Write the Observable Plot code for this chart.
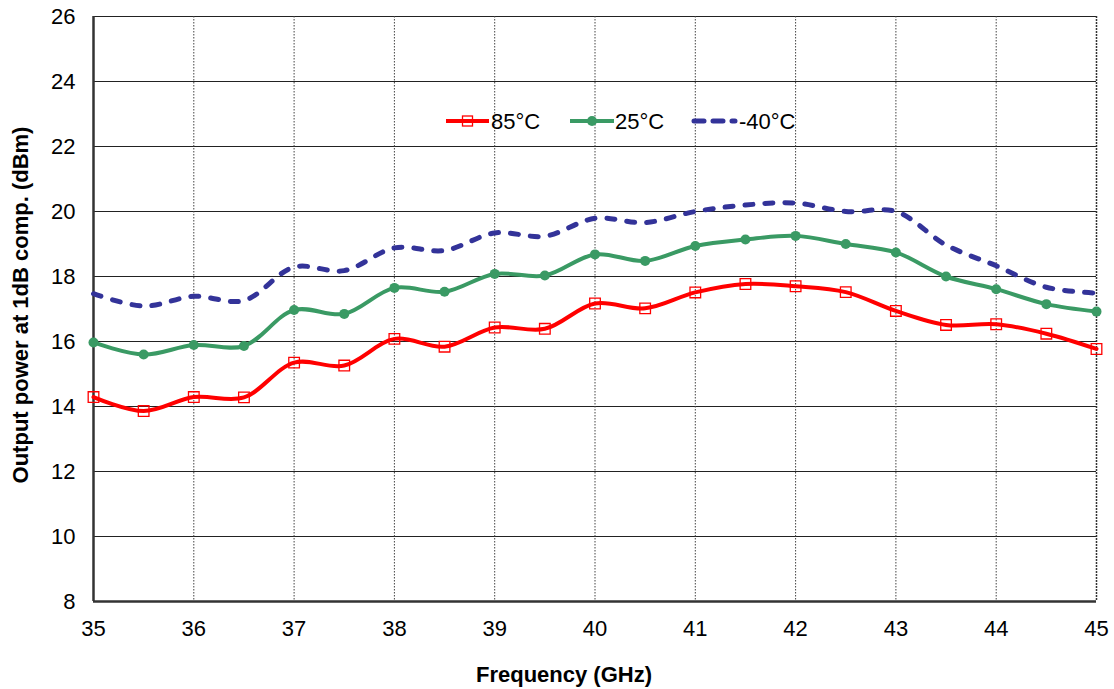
<!DOCTYPE html>
<html>
<head>
<meta charset="utf-8">
<script src="https://cdn.jsdelivr.net/npm/d3@7"></script>
<script src="https://cdn.jsdelivr.net/npm/@observablehq/plot@0.6"></script>
<style>
  html, body { margin: 0; padding: 0; background: #fff; }
  #chart { width: 1114px; height: 689px; }
</style>
</head>
<body>
<div id="chart"></div>
<script>
// ---- Data ----
const freq = [35, 35.5, 36, 36.5, 37, 37.5, 38, 38.5, 39, 39.5, 40, 40.5, 41, 41.5, 42, 42.5, 43, 43.5, 44, 44.5, 45];
const p85 = [14.29, 13.86, 14.29, 14.28, 15.35, 15.26, 16.08, 15.84, 16.43, 16.39, 17.17, 17.02, 17.51, 17.77, 17.70, 17.52, 16.94, 16.51, 16.53, 16.24, 15.77];
const p25 = [15.97, 15.60, 15.89, 15.86, 16.97, 16.85, 17.65, 17.53, 18.08, 18.03, 18.68, 18.48, 18.94, 19.14, 19.25, 19.00, 18.74, 18.00, 17.61, 17.15, 16.92];
const pm40 = [17.47, 17.09, 17.39, 17.26, 18.29, 18.18, 18.88, 18.80, 19.34, 19.24, 19.79, 19.66, 20.00, 20.20, 20.26, 20.00, 20.00, 18.97, 18.33, 17.67, 17.49];
const seriesNames = ["85°C", "25°C", "-40°C"];
const xTicks = [35, 36, 37, 38, 39, 40, 41, 42, 43, 44, 45];
const yTicks = [8, 10, 12, 14, 16, 18, 20, 22, 24, 26];
const xTitle = "Frequency (GHz)";
const yTitle = "Output power at 1dB comp. (dBm)";

const colors = {"85°C": "#ff0000", "25°C": "#3a9a64", "-40°C": "#333399"};

const rows = (vals, s) => freq.map((f, i) => ({f, v: vals[i], s}));
const r85 = rows(p85, seriesNames[0]);
const r25 = rows(p25, seriesNames[1]);
const rm40 = rows(pm40, seriesNames[2]);

const FS = 22;

const chart = Plot.plot({
  width: 1114,
  height: 689,
  marginLeft: 93,
  marginRight: 18,
  marginTop: 16,
  marginBottom: 88,
  x: {domain: [35, 45]},
  y: {domain: [8, 26]},
  style: {fontFamily: "'Liberation Sans', Arial, sans-serif", fontSize: FS + "px", color: "#000", background: "#fff"},
  marks: [
    Plot.ruleY(yTicks.filter(d => d > 8), {stroke: "#222", strokeWidth: 1.2}),
    Plot.ruleX(xTicks.filter(d => d > 35 && d < 45), {stroke: "#444", strokeWidth: 1, strokeDasharray: "1.5,1.5"}),
    Plot.ruleX([45], {stroke: "#333", strokeWidth: 1.5, strokeDasharray: "2,1"}),
    Plot.ruleX([35], {stroke: "#333", strokeWidth: 2.5}),
    Plot.ruleY([8], {stroke: "#333", strokeWidth: 2.5}),
    Plot.axisX({ticks: xTicks, tickSize: 0, tickPadding: 19, label: null, fontSize: FS, tickFormat: d => String(d)}),
    Plot.axisY({ticks: yTicks, tickSize: 0, tickPadding: 18, label: null, fontSize: FS, tickFormat: d => String(d)}),
    Plot.text([xTitle], {frameAnchor: "bottom", dx: -31, dy: 80, fontWeight: "bold", fontSize: FS}),
    Plot.text([yTitle], {frameAnchor: "left", textAnchor: "middle", lineAnchor: "middle", rotate: -90, dx: -73, dy: -4, fontWeight: "bold", fontSize: FS}),
    Plot.line(rm40, {x: "f", y: "v", stroke: colors["-40°C"], strokeWidth: 5, strokeDasharray: "8,12", strokeLinecap: "round", curve: "catmull-rom"}),
    Plot.line(r25, {x: "f", y: "v", stroke: colors["25°C"], strokeWidth: 4, curve: "catmull-rom"}),
    Plot.dot(r25, {x: "f", y: "v", r: 5, fill: colors["25°C"], stroke: "none"}),
    Plot.line(r85, {x: "f", y: "v", stroke: colors["85°C"], strokeWidth: 4, curve: "catmull-rom"}),
    Plot.dot(r85, {x: "f", y: "v", symbol: "square", r: 6, fill: "none", stroke: colors["85°C"], strokeWidth: 1.3})
  ]
});

document.getElementById("chart").appendChild(chart);

// ---- Legend (inside plot area) ----
const svg = d3.select(chart);
const lg = svg.append("g")
  .attr("font-family", "'Liberation Sans', Arial, sans-serif")
  .attr("font-size", FS)
  .attr("text-anchor", "start");
const cy = 121;
const items = [
  {name: seriesNames[0], x0: 446, x1: 489, tx: 491},
  {name: seriesNames[1], x0: 570, x1: 614, tx: 615},
  {name: seriesNames[2], x0: 694, x1: 735, tx: 739}
];
items.forEach((it, i) => {
  const c = colors[it.name];
  const line = lg.append("line").attr("x1", it.x0).attr("x2", it.x1).attr("y1", cy).attr("y2", cy)
    .attr("stroke", c);
  if (i === 0) {
    line.attr("stroke-width", 4);
    lg.append("rect").attr("x", (it.x0 + it.x1) / 2 - 5).attr("y", cy - 5).attr("width", 10).attr("height", 10)
      .attr("fill", "none").attr("stroke", c).attr("stroke-width", 1.3);
  } else if (i === 1) {
    line.attr("stroke-width", 4);
    lg.append("circle").attr("cx", (it.x0 + it.x1) / 2).attr("cy", cy).attr("r", 5).attr("fill", c);
  } else {
    line.attr("stroke-width", 5).attr("stroke-dasharray", "10,9").attr("stroke-linecap", "round");
  }
  lg.append("text").attr("x", it.tx).attr("y", cy).attr("dy", "0.35em").attr("fill", "#000").text(it.name);
});
</script>
</body>
</html>
